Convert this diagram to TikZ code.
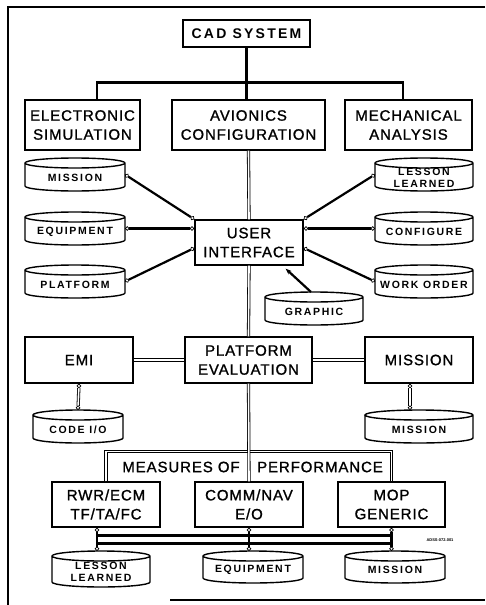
\documentclass[tikz,border=0pt]{standalone}
\usepackage{fontspec}
\setmainfont{Liberation Sans}
\usetikzlibrary{arrows.meta,positioning,calc}
\newfontfamily\boxfont[LetterSpace=6,FakeBold=1.2]{Liberation Sans}
\newfontfamily\cylfont[LetterSpace=16]{Liberation Sans}
\tikzset{
  blk/.style={draw, line width=1.4pt, align=center, inner sep=0pt,
    font=\boxfont\fontsize{15}{19}\selectfont},
  drm/.style={line width=1.4pt},
  dbox/.style={inner sep=0pt, outer sep=0pt},
  dtxt/.style={align=center, yshift=-3pt, inner sep=0pt,
    font=\cylfont\bfseries\fontsize{10.5}{12}\selectfont},
  bus/.style={line width=2.8pt},
  dbl/.style={double, line width=0.8pt, double distance=1.6pt},
  link/.style={line width=2.2pt,
    {Circle[open,length=4.5pt,line width=0.7pt]}-{Circle[open,length=4.5pt,line width=0.7pt]}},
  tap/.style={{Circle[open,length=4.5pt,line width=0.7pt]}-{Circle[open,length=4.5pt,line width=0.7pt]}},
  frm/.style={line width=1.2pt},
}
% a data store drawn as a drum: name, centre x, top y, width, height, text
\newcommand{\drum}[6]{%
  \draw[drm] ({#2-#4/2},{-#3-5}) -- ({#2-#4/2},{-#3-#5+5})
    arc[start angle=180, end angle=360, x radius={#4*0.5pt}, y radius=5pt]
    -- ({#2+#4/2},{-#3-5})
    arc[start angle=0, end angle=180, x radius={#4*0.5pt}, y radius=5pt]
    arc[start angle=180, end angle=360, x radius={#4*0.5pt}, y radius=5pt];
  \node[dbox, minimum width=#4, minimum height=#5,
    label={[dtxt]center:#6}] (#1) at (#2,{-#3-#5/2}) {};}

\begin{document}
\begin{tikzpicture}[x=1pt, y=1pt]
\useasboundingbox (0,0) rectangle (485,-605);
% frame of the scan
\draw[frm] (485,-7) -- (8,-7) -- (8,-605);
\draw[frm] (170,-600) -- (485,-600);

% top tree
\node[blk, font=\cylfont\bfseries\fontsize{14}{16}\selectfont,
  minimum width=127, minimum height=27] (cad) at (246.5,-33.5) {CAD SYSTEM};
\node[blk, minimum width=115, minimum height=50] (es) at (82.5,-125) {ELECTRONIC\\SIMULATION};
\node[blk, minimum width=153, minimum height=50] (ac) at (248.5,-125) {AVIONICS\\CONFIGURATION};
\node[blk, minimum width=127, minimum height=50] (ma) at (408.5,-125) {MECHANICAL\\ANALYSIS};
\draw[bus] (cad.south) -- (cad.south |- ac.north);
\draw[bus] ([xshift=14.5pt]es.north) -- ++(0,17) -| ([xshift=-5.5pt]ma.north);

% user interface and its stores
\node[blk, minimum width=108, minimum height=45] (ui) at (249,-242.5) {USER\\INTERFACE};
\drum{cmis}{75}{158}{100}{33}{MISSION}
\drum{cequ}{75}{212}{100}{33}{EQUIPMENT}
\drum{cpla}{75}{265}{100}{33}{PLATFORM}
\drum{clsn}{424}{158}{98}{33}{LESSON\\LEARNED}
\drum{ccfg}{424}{212}{98}{33}{CONFIGURE}
\drum{cwko}{424}{265}{98}{33}{WORK ORDER}
\drum{cgra}{314}{292}{98}{33}{GRAPHIC}
\draw[link] (cmis.east) -- (ui.north west);
\draw[link] (cequ.east) -- (cequ.east -| ui.west);
\draw[link] (cpla.east) -- ([yshift=-5.5pt]ui.west);
\draw[link] (clsn.west) -- (ui.north east);
\draw[link] (ccfg.west) -- (ccfg.west -| ui.east);
\draw[link] (cwko.west) -- ([yshift=-5.5pt]ui.east);
\draw[line width=2.2pt, -{Stealth[length=6pt]}] ([xshift=-3pt]cgra.north)
  -- ([shift={(-18pt,-3pt)}]ui.south east);

% evaluation row
\node[blk, minimum width=108, minimum height=46] (emi) at (79,-360) {EMI};
\node[blk, minimum width=127, minimum height=46] (pe) at (248.5,-360) {PLATFORM\\EVALUATION};
\node[blk, minimum width=108, minimum height=46] (mbox) at (419,-360) {MISSION};
\drum{ccod}{78}{410}{90}{33}{CODE I/O}
\drum{cmi2}{419}{410}{108}{33}{MISSION}
\draw[dbl] (emi.east) -- (pe.west);
\draw[dbl] (pe.east) -- (mbox.west);
\draw[dbl, tap] (emi.south) -- (ccod.north);
\draw[dbl, tap] ([xshift=-9pt]mbox.south) -- ([xshift=-9pt]cmi2.north);

% measures of performance
\node[blk, minimum width=108, minimum height=45] (rwr) at (106,-504.5) {RWR/ECM\\TF/TA/FC};
\node[blk, minimum width=108, minimum height=45] (comm) at (249,-504.5) {COMM/NAV\\E/O};
\node[blk, minimum width=107, minimum height=45] (mop) at (391.5,-504.5) {MOP\\GENERIC};
\draw[dbl] (rwr.north) -- ++(0,30) -| (mop.north);
\node[blk, draw=none] (meas) at (181,-467) {MEASURES OF};
\node[blk, draw=none] (perf) at (320,-467) {PERFORMANCE};

\draw[dbl] (ac.south) -- (ui.north);
\draw[dbl] (ui.south) -- (pe.north);
\draw[dbl] (pe.south) -- (comm.north);

% bottom stores on a shared bus
\drum{clsn2}{101}{551}{98}{36}{LESSON\\LEARNED}
\drum{cequ2}{253}{551}{100}{32}{EQUIPMENT}
\drum{cmi3}{395}{551}{100}{32}{MISSION}
\draw[bus, tap] ([xshift=-9pt]rwr.south) -- ([xshift=-4pt]clsn2.north);
\draw[bus, tap] (comm.south) -- (comm.south |- cequ2.north);
\draw[bus, tap] (mop.south) -- (mop.south |- cmi3.north);
\draw[bus] ([shift={(-9pt,-8pt)}]rwr.south) -- ([yshift=-8pt]mop.south);
\draw[bus] ([shift={(-9pt,-16pt)}]rwr.south) -- ([yshift=-16pt]mop.south);
\node[font=\bfseries\fontsize{4}{5}\selectfont, inner sep=0pt] (tag) at (440,-540) {ADSS-072.001};
\end{tikzpicture}
\end{document}
